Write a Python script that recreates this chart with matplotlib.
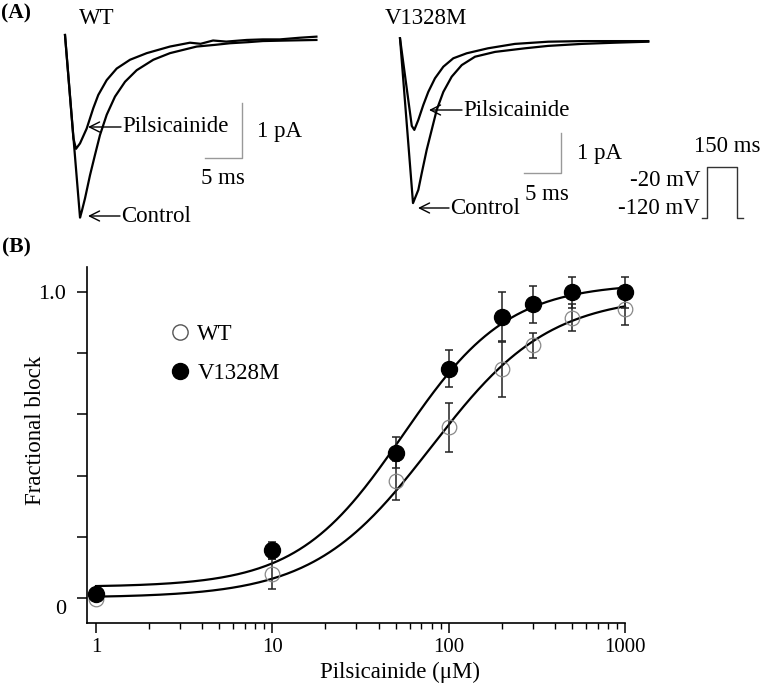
import numpy as np
import matplotlib
matplotlib.use("Agg")
import matplotlib.pyplot as plt
import matplotlib.transforms as mtransforms
from matplotlib.patches import FancyArrowPatch
from matplotlib.lines import Line2D
from matplotlib.ticker import FixedLocator, NullFormatter, FixedFormatter

plt.rcParams['font.family'] = ['Liberation Serif', 'DejaVu Serif']

W, H = 760, 691
DPI = 100

# ---------------- Panel A data (time ms, current pA) ----------------
wt_ctrl_t = [0, 2.05, 2.28, 2.73, 3.41, 4.09, 4.77, 5.69, 6.82, 8.19, 9.78, 12.05, 14.32, 17.05, 17.97, 20.4, 22.5, 25.0, 27.0, 30.5, 34.3]
wt_ctrl_i = [0, -3.32, -3.21, -2.97, -2.55, -2.18, -1.82, -1.45, -1.12, -0.85, -0.64, -0.45, -0.33, -0.24, -0.21, -0.18, -0.15, -0.13, -0.11, -0.10, -0.09]
wt_pils_t = [0, 1.15, 1.5, 2.05, 2.96, 3.86, 4.54, 5.69, 7.05, 8.87, 11.15, 14.32, 17.05, 18.5, 20.2, 22.0, 24.8, 27.0, 29.3, 32.0, 34.3]
wt_pils_i = [0, -1.88, -2.07, -1.97, -1.70, -1.33, -1.09, -0.82, -0.61, -0.45, -0.33, -0.21, -0.14, -0.16, -0.10, -0.12, -0.09, -0.08, -0.08, -0.05, -0.03]

v_ctrl_t = [0, 1.79, 2.52, 2.98, 3.67, 4.36, 5.05, 5.96, 7.11, 8.49, 10.32, 13.07, 17.19, 20.36, 24.99, 29.57, 34.15]
v_ctrl_i = [0, -4.12, -3.79, -3.38, -2.79, -2.29, -1.79, -1.34, -0.96, -0.67, -0.46, -0.34, -0.25, -0.19, -0.14, -0.11, -0.085]
v_pils_t = [0, 1.62, 1.97, 2.52, 3.20, 3.89, 4.81, 5.96, 7.33, 9.17, 12.1, 15.8, 20.4, 25.0, 29.6, 34.15]
v_pils_i = [0, -2.19, -2.29, -2.04, -1.67, -1.34, -1.0, -0.71, -0.5, -0.375, -0.25, -0.14, -0.085, -0.07, -0.07, -0.07]

scale_ms = 5
scale_pa = 1

# voltage protocol
prot_t = [-25, 0, 0, 150, 150, 180]
prot_v = [-120, -120, -20, -20, -120, -120]

# ---------------- Panel B data ----------------
conc = [1, 10, 50, 100, 200, 300, 500, 1000]
wt_block = [-0.005, 0.077, 0.383, 0.558, 0.748, 0.826, 0.917, 0.944]
wt_err = [0.0, 0.05, 0.063, 0.08, 0.09, 0.04, 0.045, 0.05]
v_block = [0.011, 0.155, 0.475, 0.75, 0.92, 0.961, 1.0, 1.0]
v_err = [0.0, 0.028, 0.05, 0.06, 0.08, 0.06, 0.05, 0.05]

# Hill fit parameters (bottom, top, IC50, n)
wt_fit = (0.0, 0.99, 80.0, 1.3)
v_fit = (0.035, 1.03, 55.0, 1.45)

xticks = [1, 10, 100, 1000]
xticklabels = ['1', '10', '100', '1000']
yticks = [0, 0.2, 0.4, 0.6, 0.8, 1.0]
yticklabels = ['0', '', '', '', '', '1.0']

fig = plt.figure(figsize=(W / DPI, H / DPI), dpi=DPI)


def rect(l, r, t, b):
    return [l / W, 1 - b / H, (r - l) / W, (b - t) / H]


def fp(x, y):
    return (x, H - y)


TXT = 16.5

# ---- WT traces ----
axw = fig.add_axes(rect(40, 345, 0, 240))
axw.set_xlim((40 - 65) / 7.33, (345 - 65) / 7.33)
axw.set_ylim((35 - 240) / 55, 35 / 55)
axw.plot(wt_ctrl_t, wt_ctrl_i, color='black', lw=1.6, solid_joinstyle='round')
axw.plot(wt_pils_t, wt_pils_i, color='black', lw=1.6, solid_joinstyle='round')
cx, cy = 24.15, -2.24
axw.plot([cx - scale_ms, cx, cx], [cy, cy, cy + scale_pa], color='#999999', lw=1.0)
axw.axis('off')

# ---- V1328M traces ----
axv = fig.add_axes(rect(375, 680, 0, 240))
axv.set_xlim((375 - 400) / 7.27, (680 - 400) / 7.27)
axv.set_ylim((38.3 - 240) / 40, 38.3 / 40)
axv.plot(v_ctrl_t, v_ctrl_i, color='black', lw=1.6, solid_joinstyle='round')
axv.plot(v_pils_t, v_pils_i, color='black', lw=1.6, solid_joinstyle='round')
cx, cy = 22.1, -3.375
axv.plot([cx - scale_ms, cx, cx], [cy, cy, cy + scale_pa], color='#999999', lw=1.0)
axv.axis('off')

# ---- protocol ----
axp = fig.add_axes(rect(690, 752, 140, 225))
axp.set_xlim((690 - 706.7) / 0.204, (752 - 706.7) / 0.204)
axp.set_ylim(-120 - (225 - 218.3) / 0.516, -120 + (218.3 - 140) / 0.516)
axp.plot(prot_t, prot_v, color='#333333', lw=1.0)
axp.axis('off')


# ---- Panel A texts ----
def ftext(x, y, s, **kw):
    fig.text(x / W, 1 - y / H, s, **kw)


ftext(16, 13, '(A)', fontsize=15.5, fontweight='bold', ha='center', va='center')
ftext(97, 18, 'WT', fontsize=TXT, ha='center', va='center')
ftext(426, 19, 'V1328M', fontsize=TXT, ha='center', va='center')

for (hx, hy, tx, label) in [(88, 127, 122, 'Pilsicainide'), (88, 216, 121, 'Control'),
                            (429, 110, 463, 'Pilsicainide'), (418, 208, 450, 'Control')]:
    fig.add_artist(FancyArrowPatch(posA=fp(tx - 1, hy), posB=fp(hx, hy), transform=None,
                                   arrowstyle='->,head_length=0.6,head_width=0.3',
                                   mutation_scale=12, lw=1.0, color='black',
                                   shrinkA=0, shrinkB=0))
    ftext(tx, hy, label, fontsize=TXT, ha='left', va='center')

ftext(257, 131, '1 pA', fontsize=TXT, ha='left', va='center')
ftext(223, 179, '5 ms', fontsize=TXT, ha='center', va='center')
ftext(577, 154, '1 pA', fontsize=TXT, ha='left', va='center')
ftext(547, 195, '5 ms', fontsize=TXT, ha='center', va='center')
ftext(700, 181, '-20 mV', fontsize=TXT, ha='right', va='center')
ftext(700, 209, '-120 mV', fontsize=TXT, ha='right', va='center')
ftext(727, 147, '150 ms', fontsize=TXT, ha='center', va='center')

ftext(16, 247, '(B)', fontsize=15.5, fontweight='bold', ha='center', va='center')

# ---------------- Panel B ----------------
ax = fig.add_axes(rect(87, 625, 266.7, 623))
ax.set_xscale('log')
ax.set_xlim(0.889, 1000)
ax.set_ylim(-0.083, 1.084)


def hill(x, p):
    b, t, ic, n = p
    return b + (t - b) / (1 + (ic / x) ** n)


xx = np.logspace(0, 3, 300)
ax.plot(xx, hill(xx, wt_fit), color='black', lw=1.6, zorder=2, clip_on=False)
ax.plot(xx, hill(xx, v_fit), color='black', lw=1.6, zorder=2, clip_on=False)

for yv, ye in [(wt_block, wt_err), (v_block, v_err)]:
    eb = ax.errorbar(conc, yv, yerr=ye, fmt='none', ecolor='#222222', elinewidth=1.1,
                     capsize=3.2, capthick=1.1, zorder=3)
    for c in eb.get_children():
        c.set_clip_on(False)
ax.plot(conc, wt_block, linestyle='none', marker='o', ms=10.5, mfc='none', mec='#888888',
        mew=0.9, zorder=4, clip_on=False)
ax.plot(conc, v_block, linestyle='none', marker='o', ms=11.5, mfc='black', mec='black',
        zorder=5, clip_on=False)

for s in ['top', 'right']:
    ax.spines[s].set_visible(False)
for s in ['left', 'bottom']:
    ax.spines[s].set_linewidth(1.2)

ax.xaxis.set_major_locator(FixedLocator(xticks))
ax.xaxis.set_major_formatter(FixedFormatter(xticklabels))
minors = [m * 10 ** d for d in range(0, 3) for m in range(2, 10)]
ax.xaxis.set_minor_locator(FixedLocator(minors))
ax.xaxis.set_minor_formatter(NullFormatter())
ax.tick_params(axis='x', which='major', length=7, width=1.1, direction='out', pad=4, labelsize=15)
ax.tick_params(axis='x', which='minor', length=4, width=1.0, direction='out')

ax.yaxis.set_major_locator(FixedLocator(yticks))
ax.yaxis.set_major_formatter(FixedFormatter(yticklabels))
ax.yaxis.set_minor_locator(FixedLocator([]))
ax.tick_params(axis='y', which='major', length=7, width=1.1, direction='out', pad=8, labelsize=16)

for lab in ax.get_yticklabels():
    if lab.get_text() == '0':
        lab.set_transform(lab.get_transform() + mtransforms.ScaledTranslation(0, -9 / DPI, fig.dpi_scale_trans))

ftext(36, 430, 'Fractional block', fontsize=TXT, rotation=90, ha='center', va='center')
ftext(400, 672, 'Pilsicainide (\u03bcM)', fontsize=TXT, ha='center', va='center')

handles = [Line2D([], [], linestyle='none', marker='o', ms=11, mfc='none', mec='#555555', mew=1.0),
           Line2D([], [], linestyle='none', marker='o', ms=11.5, mfc='black', mec='black')]
leg = ax.legend(handles, ['WT', 'V1328M'], loc='center left', frameon=False,
                bbox_to_anchor=(171 / W, 1 - 354 / H), bbox_transform=fig.transFigure,
                fontsize=TXT, handlelength=0.8, handletextpad=0.35, labelspacing=0.75,
                borderpad=0, borderaxespad=0)

fig.savefig('out.png', dpi=DPI)
